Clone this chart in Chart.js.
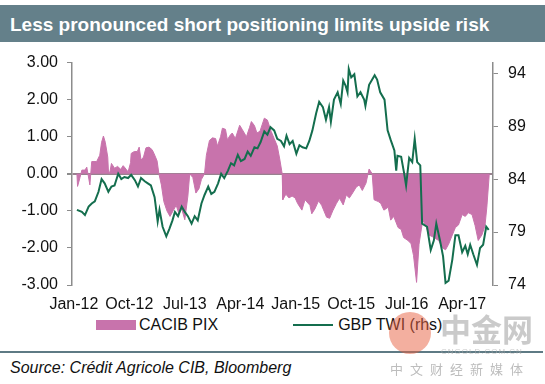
<!DOCTYPE html>
<html>
<head>
<meta charset="utf-8">
<script src="https://cdn.jsdelivr.net/npm/chart.js@4"></script>
<style>
  body { margin: 0; width: 545px; height: 384px; background: #fff; position: relative; overflow: hidden;
         font-family: "Liberation Sans", Arial, sans-serif; }
  #title { position: absolute; left: 0; top: 5px; width: 545px; height: 37px; background: #64808a;
           color: #fff; font-weight: bold; font-size: 19px; line-height: 40px; padding-left: 10px; box-sizing: border-box; }
  #chart { position: absolute; left: 0; top: 43px; }
  #legend { position: absolute; left: 96px; top: 315px; display: flex; font-size: 16px; color: #111; }
  #legend .item { display: flex; align-items: center; height: 20px; }
  #rule { position: absolute; left: 0; top: 351px; width: 543px; height: 2px; background: #5e7a84; }
  #source { position: absolute; left: 10px; top: 359px; font-size: 16px; font-style: italic; color: #111; }
  .wm { position: absolute; pointer-events: none; }
</style>
</head>
<body>
<div id="title">Less pronounced short positioning limits upside risk</div>
<canvas id="chart" width="545" height="272"></canvas>
<div id="legend"></div>
<div id="rule"></div>
<div id="source">Source: Crédit Agricole CIB, Bloomberg</div>
<div class="wm" style="left:389px;top:312px;width:42px;height:42px;border-radius:50%;background:rgba(232,96,64,0.5);"></div>
<div class="wm" style="left:440px;top:305px;font-family:'Noto Sans CJK SC';font-weight:bold;font-size:31px;color:rgba(150,150,150,0.5);">中金网</div>
<div class="wm" style="left:441px;top:347px;font-size:8px;letter-spacing:1px;color:rgba(170,170,170,0.6);">CNGOLD.COM.CN</div>
<div class="wm" style="left:390px;top:359px;font-family:'Noto Sans CJK SC';font-size:13px;letter-spacing:7px;color:#bdbdbd;">中文财经新媒体</div>
<script>
// months since Jan-2012 for the axis labels
var xTickMonths = [0, 9, 18, 27, 36, 45, 54, 63];
var xTickLabels = ['Jan-12', 'Oct-12', 'Jul-13', 'Apr-14', 'Jan-15', 'Oct-15', 'Jul-16', 'Apr-17'];
var pixTicks = [-3, -2, -1, 0, 1, 2, 3];
var twiTicks = [74, 79, 84, 89, 94];

var seriesNames = ['CACIB PIX', 'GBP TWI (rhs)'];
var seriesColors = ['#c873ac', '#146e4e'];

// CACIB PIX (lhs)
var pixMonths = [
  0.5, 0.6, 1.0, 1.3, 1.8, 2.1, 2.6, 2.9, 3.7, 4.2,
  4.5, 4.8, 5.1, 5.5, 5.6, 5.8, 6.1, 6.6, 7.1, 7.6,
  8.0, 8.5, 8.8, 9.2, 9.3, 9.8, 10.3, 10.6, 10.9, 11.3,
  11.7, 12.2, 12.7, 13.0, 13.5, 13.8, 14.2, 14.6, 15.1, 15.6,
  16.1, 16.6, 17.0, 17.5, 18.0, 18.5, 18.8, 19.3, 19.8, 20.3,
  20.7, 21.2, 21.5, 22.0, 22.5, 23.0, 23.3, 23.8, 24.1, 24.6,
  24.9, 25.4, 25.7, 26.2, 26.9, 27.3, 28.0, 28.5, 28.8, 29.3,
  29.7, 30.2, 30.9, 31.4, 32.0, 32.5, 33.0, 33.4, 33.8, 33.9,
  34.4, 34.9, 35.4, 35.9, 36.3, 37.0, 37.5, 38.3, 38.6, 39.1,
  39.7, 40.2, 41.0, 41.5, 42.0, 42.6, 43.1, 43.7, 44.2, 44.7,
  45.3, 45.8, 46.3, 46.8, 47.4, 47.9, 48.4, 48.7, 49.4, 49.8,
  50.3, 51.0, 51.4, 51.9, 52.6, 53.1, 53.5, 54.2, 54.7, 55.1,
  55.6, 56.0, 56.6, 57.1, 57.6, 58.2, 58.7, 59.2, 59.8, 60.3,
  60.8, 61.4, 61.9, 62.4, 63.0, 63.5, 64.0, 64.6, 65.1, 65.6,
  66.2, 66.7, 67.0, 67.4
];
var pixValues = [
  0.0, -0.34, -0.1, 0.1, 0.1, 0.18, -0.3, 0.33, 0.33, 0.5,
  0.85, 1.02, 0.85, 0.45, 0.1, 0.0, 0.28, 0.15, 0.2, 0.12,
  0.22, 0.12, 0.05, 0.3, 0.55, 0.6, 0.6, 0.72, 0.37, 0.45,
  0.7, 0.72, 0.65, 0.55, 0.35, 0.0, -0.3, -0.75, -1.0, -1.15,
  -1.0, -0.85, -1.05, -0.95, -1.24, -0.6, 0.0, -0.1, -0.52, -0.4,
  -0.15, 0.0, 0.5, 0.9, 0.97, 0.95, 0.75, 1.0, 1.23, 1.2,
  0.92, 1.05, 1.1, 0.95, 1.31, 1.2, 1.0, 1.25, 1.41, 1.3,
  1.1, 1.15, 1.5, 1.45, 1.15, 0.95, 0.75, 0.4, 0.0, -0.7,
  -0.55, -0.65, -0.6, -0.65, -0.8, -0.98, -0.7, -0.85, -1.08, -0.95,
  -0.73, -0.85, -1.17, -1.2, -1.0, -0.8, -0.66, -0.84, -0.57, -0.65,
  -0.5, -0.36, -0.3, -0.45, -0.25, 0.13, 0.0, -0.7, -0.75, -0.8,
  -0.98, -0.9, -1.25, -1.15, -1.45, -1.5, -1.72, -1.8, -1.88, -2.2,
  -2.93, -1.9, -1.25, -1.4, -1.65, -1.7, -1.75, -1.8, -2.0, -2.05,
  -1.9, -1.65, -1.45, -1.38, -1.1, -1.15, -1.05, -1.1, -1.4, -1.8,
  -1.65, -1.4, -0.9, 0.0
];

// GBP TWI (rhs)
var twiMonths = [
  0.5, 1.3, 1.8, 2.4, 2.9, 3.4, 4.0, 4.5, 5.0, 5.6,
  6.1, 6.6, 7.2, 7.7, 8.2, 8.8, 9.3, 9.9, 10.4, 10.9,
  11.5, 12.0, 12.5, 13.1, 13.6, 13.9, 14.4, 15.0, 15.5, 16.0,
  16.4, 16.9, 17.5, 18.0, 18.5, 19.1, 19.6, 20.1, 20.7, 21.2,
  21.8, 22.3, 22.8, 23.4, 23.9, 24.4, 25.0, 25.5, 26.0, 26.6,
  27.1, 27.7, 28.2, 28.7, 29.3, 29.8, 30.3, 30.9, 31.4, 31.9,
  32.5, 33.0, 33.6, 34.1, 34.5, 35.0, 35.5, 36.1, 36.6, 37.1,
  37.7, 38.2, 38.7, 39.3, 39.8, 40.4, 40.9, 41.4, 41.7, 42.2,
  42.8, 43.3, 43.7, 44.1, 44.4, 44.6, 45.0, 45.5, 46.0, 46.5,
  47.1, 47.3, 47.9, 48.4, 48.8, 49.2, 49.7, 50.4, 50.9, 51.4,
  52.0, 52.3, 52.5, 53.1, 53.6, 53.9, 54.4, 54.9, 55.3, 55.7,
  56.2, 56.5, 57.3, 57.9, 58.4, 58.8, 59.4, 59.9, 60.3, 60.8,
  61.4, 61.9, 62.4, 63.0, 63.5, 63.9, 64.3, 64.8, 65.4, 65.9,
  66.4, 66.9, 67.3
];
var twiValues = [
  81.1, 80.9, 80.6, 81.4, 81.7, 81.9, 82.8, 84.0, 83.6, 82.8,
  83.3, 83.4, 84.5, 84.0, 84.2, 84.1, 84.4, 83.9, 83.3, 84.1,
  83.8, 83.6, 83.4, 82.3, 80.0, 81.1, 79.5, 78.6, 79.3, 80.1,
  80.9, 80.5, 81.4, 80.9, 80.5, 79.8, 80.5, 80.1, 81.7, 82.5,
  83.3, 82.6, 82.8, 83.6, 84.5, 84.1, 84.8, 85.5, 85.3, 86.3,
  85.7, 85.9, 86.6, 86.2, 87.0, 86.9, 87.5, 88.5, 88.2, 88.9,
  88.6, 87.8, 87.6, 87.1, 88.1, 87.3, 87.6, 86.4, 87.2, 87.0,
  86.9, 87.6, 88.6, 90.2, 91.3, 90.8, 89.6, 90.8, 89.4, 91.5,
  92.2, 91.1, 93.3, 92.8, 92.2, 94.4, 93.6, 93.9, 91.8, 92.2,
  91.5, 90.9, 92.9, 93.4, 93.8, 93.4, 92.2, 91.5, 88.6, 87.7,
  86.7, 84.8, 86.2, 86.1, 84.5, 83.4, 86.0, 85.6, 87.8, 85.6,
  85.3, 79.8, 79.5, 77.3, 78.2, 79.8, 78.2, 76.7, 74.2, 74.4,
  76.4, 78.7, 78.7, 77.1, 77.7, 76.9, 77.8, 76.9, 75.9, 77.5,
  77.8, 79.5, 79.2
];

var axisColor = '#8c8c8c';
var zeroColor = '#98818f';

Chart.defaults.font.family = '"Liberation Sans", Arial, sans-serif';
Chart.defaults.font.size = 16;
Chart.defaults.color = '#111';

function points(xs, ys) {
    return xs.map(function (x, i) { return { x: x, y: ys[i] }; });
}

var ctx = document.getElementById('chart');
new Chart(ctx, {
    type: 'line',
    data: {
        datasets: [{
            label: seriesNames[0],
            data: points(pixMonths, pixValues),
            yAxisID: 'y',
            fill: 'origin',
            backgroundColor: seriesColors[0],
            borderColor: seriesColors[0],
            borderWidth: 1,
            pointRadius: 0,
            order: 2
        }, {
            label: seriesNames[1],
            data: points(twiMonths, twiValues),
            yAxisID: 'y1',
            fill: false,
            borderColor: seriesColors[1],
            borderWidth: 2,
            pointRadius: 0,
            order: 1
        }]
    },
    options: {
        responsive: false,
        animation: false,
        devicePixelRatio: 1,
        // plot area ends up at x 72-493, y 62-285 on the page
        layout: { padding: { top: 5, left: 0, right: 0, bottom: 0 } },
        plugins: { legend: { display: false }, tooltip: { enabled: false } },
        scales: {
            x: {
                type: 'linear',
                min: -0.3,
                max: 68,
                grid: { display: false, drawTicks: false },
                border: { display: false },
                ticks: {
                    padding: 10,
                    autoSkip: false,
                    maxRotation: 0,
                    callback: function (v) { return xTickLabels[xTickMonths.indexOf(v)]; }
                },
                afterBuildTicks: function (s) { s.ticks = xTickMonths.map(function (v) { return { value: v }; }); },
                afterFit: function (s) { s.height = 30; }
            },
            y: {
                position: 'left',
                min: -3,
                max: 3,
                border: { color: axisColor, width: 1.5 },
                grid: {
                    color: function (c) { return c.tick && c.tick.value === 0 ? zeroColor : 'rgba(0,0,0,0)'; },
                    lineWidth: function (c) { return c.tick && c.tick.value === 0 ? 2 : 1; },
                    tickColor: axisColor,
                    tickLength: 5
                },
                ticks: { padding: 9, callback: function (v) { return v.toFixed(2); } },
                afterBuildTicks: function (s) { s.ticks = pixTicks.map(function (v) { return { value: v }; }); },
                afterFit: function (s) { s.width = 72; }
            },
            y1: {
                position: 'right',
                min: 74,
                max: 95,
                border: { color: axisColor, width: 1.5 },
                grid: { drawOnChartArea: false, tickColor: axisColor, tickLength: 5 },
                ticks: { padding: 10 },
                afterBuildTicks: function (s) { s.ticks = twiTicks.map(function (v) { return { value: v }; }); },
                afterFit: function (s) { s.width = 52; }
            }
        }
    }
});

// legend below the axis
var legend = document.getElementById('legend');
seriesNames.forEach(function (name, i) {
    var item = document.createElement('div');
    item.className = 'item';
    var mark = document.createElement('span');
    mark.style.display = 'inline-block';
    mark.style.width = '40px';
    mark.style.background = seriesColors[i];
    mark.style.height = i === 0 ? '10px' : '2px';
    mark.style.marginRight = i === 0 ? '3px' : '5px';
    var text = document.createElement('span');
    text.textContent = name;
    item.appendChild(mark);
    item.appendChild(text);
    if (i === 0) item.style.marginRight = '75px';
    legend.appendChild(item);
});
</script>
</body>
</html>
